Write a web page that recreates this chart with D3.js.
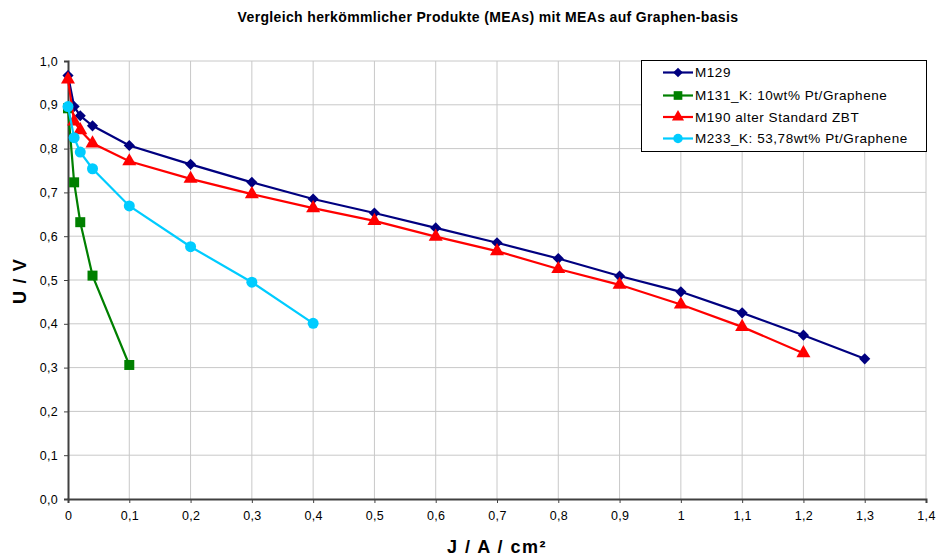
<!DOCTYPE html>
<html>
<head>
<meta charset="utf-8">
<script src="https://cdn.jsdelivr.net/npm/d3@7"></script>
<style>
  html, body { margin: 0; padding: 0; background: #fff; }
  svg { display: block; font-family: Arial, "Liberation Sans", sans-serif; }
</style>
</head>
<body>
<svg id="chart" width="937" height="559"></svg>
<script>
// Current density (A/cm²) and cell voltage (V) for each MEA
const m129X = [0, 0.01, 0.02, 0.04, 0.1, 0.2, 0.3, 0.4, 0.5, 0.6, 0.7, 0.8, 0.9, 1.0, 1.1, 1.2, 1.3];
const m129Y = [0.967, 0.896, 0.875, 0.852, 0.807, 0.764, 0.723, 0.685, 0.653, 0.619, 0.585, 0.549, 0.509, 0.473, 0.425, 0.374, 0.320];

const m131X = [0, 0.01, 0.02, 0.04, 0.1];
const m131Y = [0.892, 0.723, 0.632, 0.510, 0.306];

const m190X = [0, 0.01, 0.02, 0.04, 0.1, 0.2, 0.3, 0.4, 0.5, 0.6, 0.7, 0.8, 0.9, 1.0, 1.1, 1.2];
const m190Y = [0.958, 0.862, 0.842, 0.812, 0.771, 0.731, 0.696, 0.664, 0.635, 0.599, 0.566, 0.525, 0.489, 0.444, 0.393, 0.333];

const m233X = [0, 0.01, 0.02, 0.04, 0.1, 0.2, 0.3, 0.4];
const m233Y = [0.896, 0.825, 0.792, 0.754, 0.669, 0.576, 0.495, 0.401];

const seriesNames = ["M129", "M131_K: 10wt% Pt/Graphene", "M190 alter Standard ZBT", "M233_K: 53,78wt% Pt/Graphene"];
const seriesColors = ["#000080", "#008000", "#ff0000", "#00ccff"];
// Diamond is drawn as a square turned by 45°
const seriesSymbols = [d3.symbolSquare, d3.symbolSquare, d3.symbolTriangle, d3.symbolCircle];
const symbolRotate = [45, 0, 0, 0];
const symbolSizes = [62, 100, 85, 95];

const xTicks = [0, 0.1, 0.2, 0.3, 0.4, 0.5, 0.6, 0.7, 0.8, 0.9, 1.0, 1.1, 1.2, 1.3, 1.4];
const yTicks = [0, 0.1, 0.2, 0.3, 0.4, 0.5, 0.6, 0.7, 0.8, 0.9, 1.0];

const titleText = "Vergleich herkömmlicher Produkte (MEAs) mit MEAs auf Graphen-basis";
const xTitle = "J / A / cm²";
const yTitle = "U / V";

const series = [
  { x: m129X, y: m129Y },
  { x: m131X, y: m131Y },
  { x: m190X, y: m190Y },
  { x: m233X, y: m233Y }
].map((s, i) => ({
  name: seriesNames[i],
  color: seriesColors[i],
  symbol: seriesSymbols[i],
  rotate: symbolRotate[i],
  size: symbolSizes[i],
  points: s.x.map((xv, j) => ({ x: xv, y: s.y[j] }))
}));

const svg = d3.select("#chart");
const plot = { left: 68, right: 926, top: 61, bottom: 499 };

const x = d3.scaleLinear().domain([0, 1.4]).range([plot.left, plot.right]);
const y = d3.scaleLinear().domain([0, 1.0]).range([plot.bottom, plot.top]);

const commaFmt = v => String(+v.toFixed(1)).replace(".", ",");
const yFmt = v => v.toFixed(1).replace(".", ",");

// Grid lines
const grid = svg.append("g");
grid.selectAll("line.v").data(xTicks.slice(1)).join("line")
  .attr("x1", d => x(d)).attr("x2", d => x(d))
  .attr("y1", plot.top).attr("y2", plot.bottom)
  .attr("stroke", "#c8c8c8").attr("stroke-width", 1);
grid.selectAll("line.h").data(yTicks.slice(1)).join("line")
  .attr("x1", plot.left).attr("x2", plot.right)
  .attr("y1", d => y(d)).attr("y2", d => y(d))
  .attr("stroke", "#c8c8c8").attr("stroke-width", 1);

// Axes
const xAxis = svg.append("g")
  .attr("transform", `translate(0,${plot.bottom})`)
  .call(d3.axisBottom(x).tickValues(xTicks).tickFormat(commaFmt).tickSize(4).tickPadding(8));
const yAxis = svg.append("g")
  .attr("transform", `translate(${plot.left},0)`)
  .call(d3.axisLeft(y).tickValues(yTicks).tickFormat(yFmt).tickSize(4).tickPadding(6));

[xAxis, yAxis].forEach(a => {
  a.select(".domain").attr("stroke", "#404040").attr("stroke-width", 2);
  a.selectAll(".tick line").attr("stroke", "#404040");
  a.selectAll(".tick text").attr("font-size", 12.5).attr("fill", "#000")
    .attr("letter-spacing", "0.3px")
    .attr("font-family", "Arial, 'Liberation Sans', sans-serif");
});

// Series lines and markers
const line = d3.line().x(d => x(d.x)).y(d => y(d.y));
series.forEach(s => {
  const g = svg.append("g");
  g.append("path").datum(s.points)
    .attr("d", line)
    .attr("fill", "none")
    .attr("stroke", s.color)
    .attr("stroke-width", 2.2);
  g.selectAll("path.m").data(s.points).join("path")
    .attr("class", "m")
    .attr("transform", d => `translate(${x(d.x)},${y(d.y)}) rotate(${s.rotate})`)
    .attr("d", d3.symbol().type(s.symbol).size(s.size))
    .attr("fill", s.color);
});

// Title and axis titles
svg.append("text")
  .attr("x", 488).attr("y", 22)
  .attr("text-anchor", "middle")
  .attr("font-size", 14).attr("font-weight", "bold")
  .attr("letter-spacing", "0.35px")
  .text(titleText);

svg.append("text")
  .attr("x", 497).attr("y", 553)
  .attr("text-anchor", "middle")
  .attr("font-size", 18).attr("font-weight", "bold")
  .attr("letter-spacing", "1.5px")
  .text(xTitle);

svg.append("text")
  .attr("transform", "translate(26,281) rotate(-90)")
  .attr("text-anchor", "middle")
  .attr("font-size", 18).attr("font-weight", "bold")
  .attr("letter-spacing", "1.2px")
  .text(yTitle);

// Legend
const legend = svg.append("g");
legend.append("rect")
  .attr("x", 641.5).attr("y", 60.5)
  .attr("width", 285).attr("height", 91)
  .attr("fill", "#fff").attr("stroke", "#000").attr("stroke-width", 1);
const rowY = [72.5, 95.5, 117, 138.5];
series.forEach((s, i) => {
  const row = legend.append("g").attr("transform", `translate(0,${rowY[i]})`);
  row.append("line").attr("x1", 663).attr("x2", 693).attr("y1", 0).attr("y2", 0)
    .attr("stroke", s.color).attr("stroke-width", 2.2);
  row.append("path").attr("transform", `translate(678,0) rotate(${s.rotate})`)
    .attr("d", d3.symbol().type(s.symbol).size(s.size * 0.75)).attr("fill", s.color);
  row.append("text").attr("x", 695).attr("y", 0).attr("dy", "0.35em")
    .attr("font-size", 13.5).attr("letter-spacing", "0.55px").text(s.name);
});
</script>
</body>
</html>
